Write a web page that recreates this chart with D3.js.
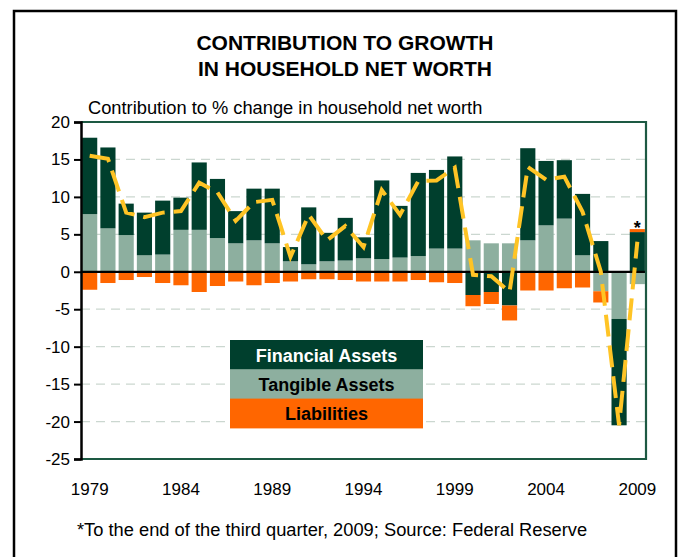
<!DOCTYPE html>
<html><head><meta charset="utf-8">
<script src="https://cdn.jsdelivr.net/npm/d3@7"></script>
<style>
body{margin:0;background:#fff}
svg{display:block}
text{font-family:"Liberation Sans",Arial,sans-serif}
</style>
</head><body>
<svg id="chart" width="681" height="557"></svg>
<script>
// ---- data ----
const years = [1979,1980,1981,1982,1983,1984,1985,1986,1987,1988,1989,1990,1991,1992,1993,1994,1995,1996,1997,1998,1999,2000,2001,2002,2003,2004,2005,2006,2007,2008,2009];
const financial   = [10.2,10.8,4.2,5.7,7.2,4.3,9.0,7.9,4.3,6.9,7.3,1.9,7.6,3.8,5.7,2.8,10.5,6.9,11.1,10.5,12.3,-3.1,-2.7,-4.5,12.3,8.6,7.8,8.2,4.1,-14.2,5.3];
const tangible    = [7.7,5.8,4.9,2.2,2.3,5.6,5.6,4.5,3.8,4.2,3.8,1.4,1.0,1.4,1.5,1.8,1.7,1.9,2.1,3.1,3.1,4.2,3.8,3.8,4.2,6.2,7.1,2.2,-2.6,-6.3,-1.65];
const liabilities = [-2.4,-1.5,-1.1,-0.7,-1.5,-1.8,-2.7,-1.9,-1.3,-1.8,-1.5,-1.3,-1.0,-1.0,-1.1,-1.3,-1.3,-1.3,-1.1,-1.4,-1.5,-1.5,-1.6,-2.0,-2.5,-2.5,-2.2,-2.1,-1.5,0,0.4];
const netWorth    = [15.5,15.1,7.9,7.3,7.9,8.1,11.9,10.6,6.8,9.3,9.6,2.0,7.6,4.2,6.1,3.3,10.9,7.6,12.1,12.2,13.9,-0.4,-0.6,-2.7,14.0,12.3,12.7,8.0,0.0,-20.5,4.0];
const yTicks = [-25,-20,-15,-10,-5,0,5,10,15,20];
const xTickLabels = [1979,1984,1989,1994,1999,2004,2009];
const seriesKeys = ["tangible","financial","liabilities"];
const legendItems = [
  {key:"financial", label:"Financial Assets"},
  {key:"tangible", label:"Tangible Assets"},
  {key:"liabilities", label:"Liabilities"}
];
const titleLines = ["CONTRIBUTION TO GROWTH","IN HOUSEHOLD NET WORTH"];
const subtitle = "Contribution to % change in household net worth";
const footnote = "*To the end of the third quarter, 2009; Source: Federal Reserve";
const markerYear = 2009;

// ---- styles ----
const colors = {financial:"#003f2d", tangible:"#8daf9f", liabilities:"#ff6600"};
const textColors = {financial:"#ffffff", tangible:"#000000", liabilities:"#000000"};
const lineColor = "#ffc425";

const svg = d3.select("#chart");
const plot = {left:81, right:646, top:122, bottom:459};

// outer frame
svg.append("rect").attr("x",14).attr("y",11).attr("width",662).attr("height",620)
  .attr("fill","none").attr("stroke","#000").attr("stroke-width",2.5);

// titles
svg.selectAll("text.title").data(titleLines).join("text")
  .attr("class","title").attr("x",345).attr("y",(d,i)=>50+i*26)
  .attr("text-anchor","middle").attr("font-size",21).attr("font-weight","bold").text(d=>d);
svg.append("text").attr("x",88).attr("y",114).attr("font-size",18.3).text(subtitle);

// scales
const x = d3.scaleBand().domain(years).range([plot.left, plot.right]).paddingInner(0.17).paddingOuter(0.06);
const y = d3.scaleLinear().domain([-25,20]).range([plot.bottom, plot.top]);

// grid
svg.append("g").selectAll("line").data(yTicks.filter(t=>t!==20 && t!==-25 && t!==0)).join("line")
  .attr("x1",plot.left).attr("x2",plot.right).attr("y1",d=>y(d)).attr("y2",d=>y(d))
  .attr("stroke","#cbd7d0").attr("stroke-width",1.3).attr("stroke-dasharray","9,6");

// stacked bars
const rows = years.map((yr,i)=>({year:yr, financial:financial[i], tangible:tangible[i], liabilities:liabilities[i]}));
const stacked = d3.stack().keys(seriesKeys).offset(d3.stackOffsetDiverging)(rows);
svg.append("g").selectAll("g").data(stacked).join("g")
  .attr("fill",d=>colors[d.key])
  .selectAll("rect").data(d=>d).join("rect")
  .attr("x",d=>x(d.data.year)).attr("width",x.bandwidth())
  .attr("y",d=>y(d[1])).attr("height",d=>Math.max(0,y(d[0])-y(d[1])));

// zero line
svg.append("line").attr("x1",plot.left).attr("x2",plot.right+1).attr("y1",y(0)).attr("y2",y(0))
  .attr("stroke","#000").attr("stroke-width",2.2);

// net worth line
const line = d3.line().x((d,i)=>x(years[i])+x.bandwidth()/2).y(d=>y(d));
svg.append("path").datum(netWorth).attr("d",line).attr("fill","none")
  .attr("stroke",lineColor).attr("stroke-width",4).attr("stroke-dasharray","22,9");

// plot border (top/right/bottom)
svg.append("path")
  .attr("d",`M${plot.left},${plot.top}H${plot.right}V${plot.bottom}H${plot.left}`)
  .attr("fill","none").attr("stroke","#1d5943").attr("stroke-width",2.2);

// y axis
const yAxis = svg.append("g").attr("transform",`translate(${plot.left},0)`)
  .call(d3.axisLeft(y).tickValues(yTicks).tickSize(7).tickPadding(4).tickFormat(d=>String(d)));
yAxis.select(".domain").attr("stroke","#000").attr("stroke-width",2.5);
yAxis.selectAll(".tick line").attr("stroke","#000").attr("stroke-width",2);
yAxis.selectAll(".tick text").attr("font-size",17).attr("fill","#000").attr("font-family",null);

// x axis
const xAxis = svg.append("g").attr("transform",`translate(0,${plot.bottom})`)
  .call(d3.axisBottom(x).tickValues(xTickLabels).tickSize(0).tickPadding(24));
xAxis.select(".domain").remove();
xAxis.selectAll(".tick text").attr("font-size",17).attr("fill","#000").attr("font-family",null);

// asterisk marker
svg.append("text").attr("x",x(markerYear)+x.bandwidth()/2).attr("y",234)
  .attr("text-anchor","middle").attr("font-size",18).attr("font-weight","bold").text("*");

// legend
const lg = svg.append("g");
const lgX = 230, lgW = 193, lgY = 340, lgH = 29.3;
legendItems.forEach((it,i)=>{
  lg.append("rect").attr("x",lgX).attr("y",lgY+i*lgH).attr("width",lgW).attr("height",lgH+0.5).attr("fill",colors[it.key]);
  lg.append("text").attr("x",lgX+lgW/2).attr("y",lgY+i*lgH+21.5).attr("text-anchor","middle")
    .attr("font-size",18).attr("font-weight","bold").attr("fill",textColors[it.key]).text(it.label);
});

// footnote
svg.append("text").attr("x",77).attr("y",536).attr("font-size",18.3).text(footnote);
</script>
</body></html>
